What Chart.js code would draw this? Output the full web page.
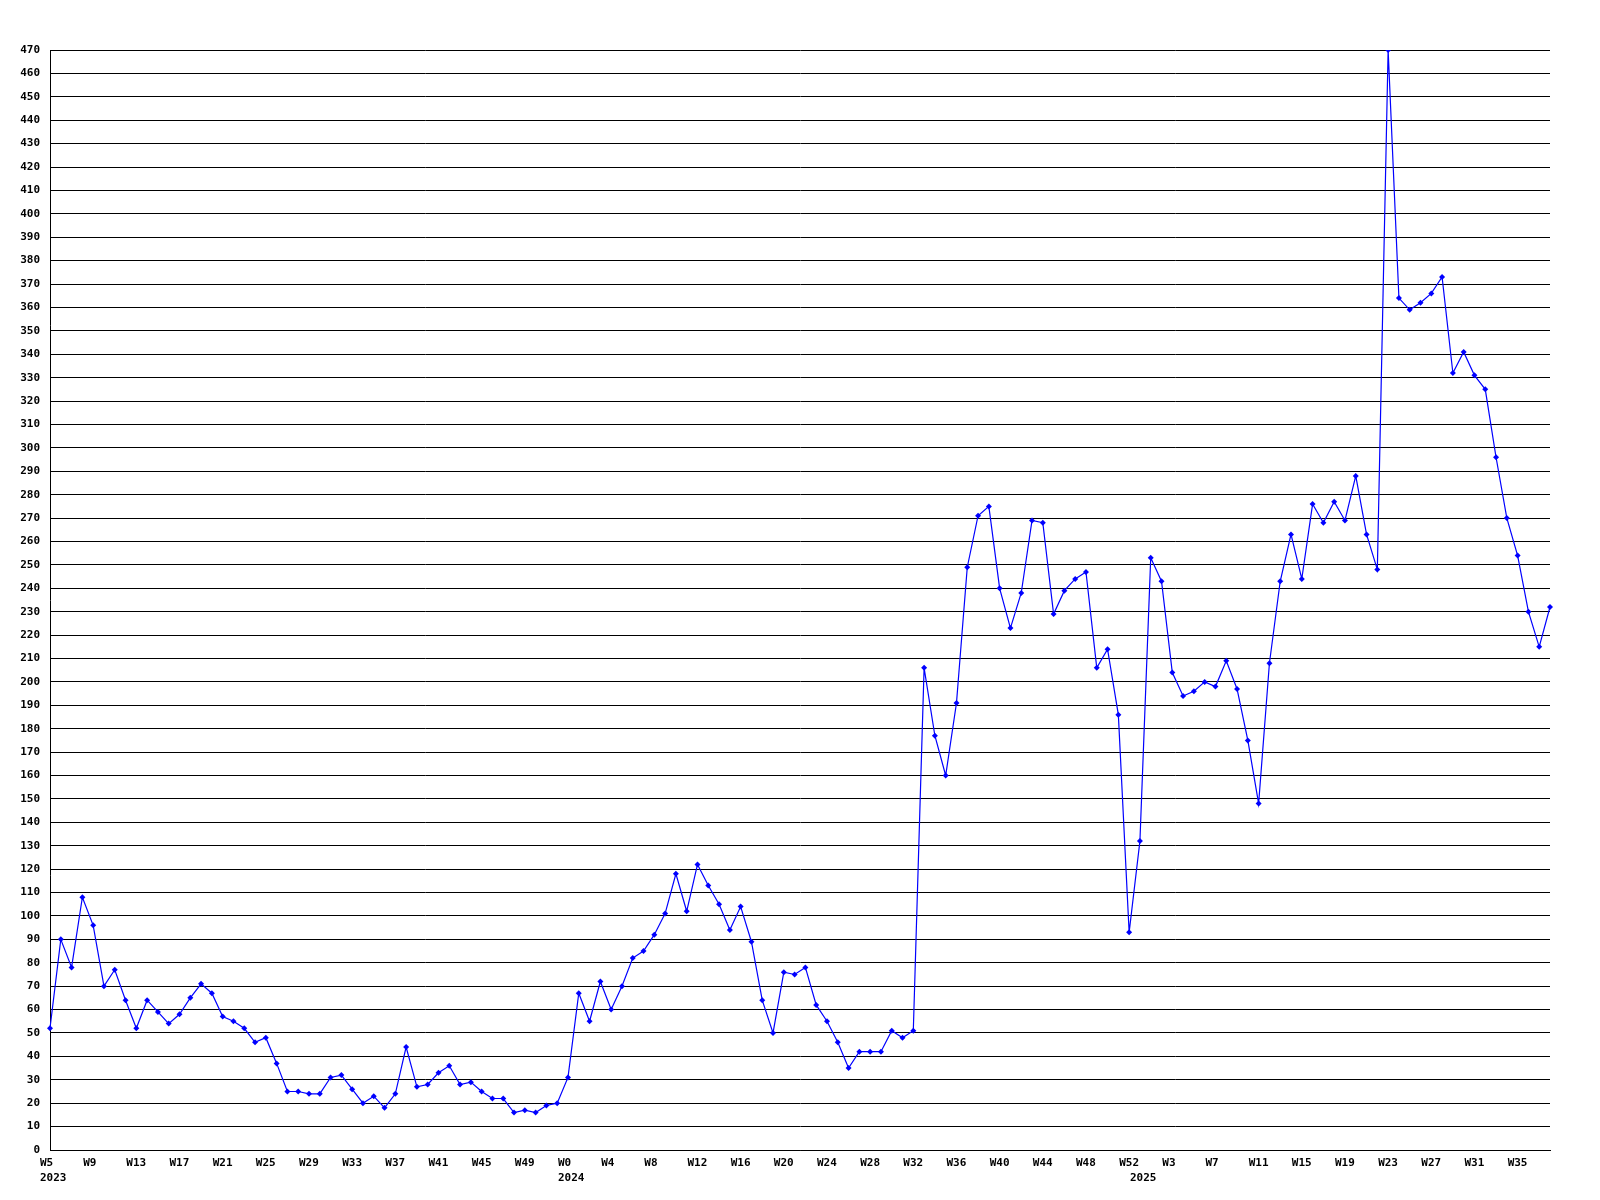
<!DOCTYPE html>
<html>
<head>
<meta charset="utf-8">
<style>
  html, body { margin: 0; padding: 0; background: #ffffff; }
  #wrap { width: 1600px; height: 1200px; }
</style>
<script src="https://cdn.jsdelivr.net/npm/chart.js@4/dist/chart.umd.min.js"></script>
</head>
<body>
<div id="wrap"><canvas id="c" width="1600" height="1200"></canvas></div>
<script>
// ---- data ----
const years = ['2023', '2024', '2025'];
const startWeeks = [5, 0, 0];

const values2023 = [52, 90, 78, 108, 96, 70, 77, 64, 52, 64, 59, 54, 58, 65, 71, 67, 57, 55, 52, 46,
  48, 37, 25, 25, 24, 24, 31, 32, 26, 20, 23, 18, 24, 44, 27, 28, 33, 36, 28, 29,
  25, 22, 22, 16, 17, 16, 19, 20];
const values2024 = [31, 67, 55, 72, 60, 70, 82, 85, 92, 101, 118, 102, 122, 113, 105, 94, 104, 89, 64, 50,
  76, 75, 78, 62, 55, 46, 35, 42, 42, 42, 51, 48, 51, 206, 177, 160, 191, 249, 271, 275,
  240, 223, 238, 269, 268, 229, 239, 244, 247, 206, 214, 186, 93];
const values2025 = [132, 253, 243, 204, 194, 196, 200, 198, 209, 197, 175, 148, 208, 243, 263, 244, 276, 268, 277, 269,
  288, 263, 248, 470, 364, 359, 362, 366, 373, 332, 341, 331, 325, 296, 270, 254, 230, 215, 232];

const yearValues = [values2023, values2024, values2025];
const yMin = 0, yMax = 470, yStep = 10;
const labelEvery = 4;

// ---- build categories from the arrays ----
const categories = [];
const yearStartIndex = {};
const values = [];
yearValues.forEach((arr, yi) => {
  yearStartIndex[categories.length] = years[yi];
  arr.forEach((v, i) => {
    categories.push('W' + (startWeeks[yi] + i));
    values.push(v);
  });
});

const FONT = { family: "'DejaVu Sans Mono', 'Liberation Mono', monospace", size: 11, weight: 'bold', lineHeight: 1.36 };

new Chart(document.getElementById('c'), {
  type: 'line',
  data: {
    labels: categories,
    datasets: [{
      data: values,
      borderColor: '#0000ff',
      backgroundColor: '#0000ff',
      borderWidth: 1.2,
      tension: 0,
      pointStyle: 'rectRot',
      pointRadius: 3,
      pointBorderWidth: 0,
      pointBackgroundColor: '#0000ff',
      fill: false
    }]
  },
  options: {
    responsive: false,
    animation: false,
    devicePixelRatio: 1,
    layout: { padding: { top: 50, right: 50, left: 0, bottom: 0 } },
    plugins: { legend: { display: false }, tooltip: { enabled: false }, title: { display: false } },
    scales: {
      x: {
        type: 'category',
        offset: false,
        grid: { display: false, drawTicks: false },
        border: { display: true, color: '#000000', width: 1 },
        afterFit: s => { s.height = 50; },
        ticks: {
          autoSkip: false,
          maxRotation: 0,
          minRotation: 0,
          align: 'start',
          labelOffset: -10,
          padding: 6,
          color: '#000000',
          font: FONT,
          callback: function (value, index) {
            const top = (index % labelEvery === 0) ? categories[index] : '';
            const bottom = yearStartIndex[index] || '';
            if (!top && !bottom) return '';
            return bottom ? [top, bottom] : top;
          }
        }
      },
      y: {
        min: yMin,
        max: yMax,
        grid: { display: true, color: '#000000', lineWidth: 1, drawTicks: false },
        border: { display: true, color: '#000000', width: 1 },
        afterFit: s => { s.width = 50; },
        ticks: {
          stepSize: yStep,
          autoSkip: false,
          padding: 10,
          color: '#000000',
          font: FONT
        }
      }
    }
  }
});
</script>
</body>
</html>
